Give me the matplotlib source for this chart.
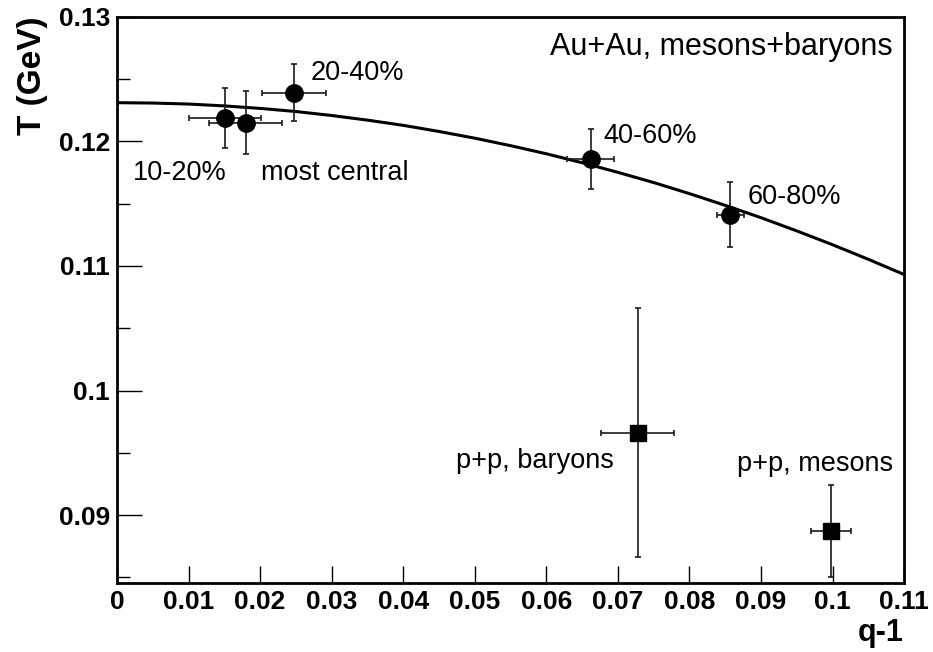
import matplotlib.pyplot as plt
import numpy as np

plt.rcParams['font.family'] = ['Liberation Sans', 'DejaVu Sans']

# Au+Au centrality classes (circles)
auau_labels = ["10-20%", "most central", "20-40%", "40-60%", "60-80%"]
auau_q = [0.0151, 0.0180, 0.0247, 0.0662, 0.0857]
auau_T = [0.1219, 0.1215, 0.1239, 0.1186, 0.1141]
auau_q_err = [0.0050, 0.0051, 0.0045, 0.0033, 0.0019]
auau_T_err = [0.0024, 0.0025, 0.0023, 0.0024, 0.0026]

# p+p (squares)
pp_labels = ["p+p, baryons", "p+p, mesons"]
pp_q = [0.0728, 0.0998]
pp_T = [0.0966, 0.0887]
pp_q_err = [0.0051, 0.0028]
pp_T_err = [0.0100, 0.0037]

# fit curve
curve_q = [0.000, 0.005, 0.010, 0.015, 0.020, 0.025, 0.030, 0.035, 0.040,
           0.045, 0.050, 0.055, 0.060, 0.065, 0.070, 0.075, 0.080, 0.085,
           0.090, 0.095, 0.100, 0.105, 0.110]
curve_T = [0.12310, 0.12307, 0.12299, 0.12284, 0.12264, 0.12239, 0.12207,
           0.12170, 0.12128, 0.12079, 0.12025, 0.11965, 0.11900, 0.11828,
           0.11751, 0.11669, 0.11580, 0.11486, 0.11387, 0.11281, 0.11170,
           0.11053, 0.10931]

x_ticks = [0, 0.01, 0.02, 0.03, 0.04, 0.05, 0.06, 0.07, 0.08, 0.09, 0.10, 0.11]
x_tick_labels = ["0", "0.01", "0.02", "0.03", "0.04", "0.05", "0.06", "0.07",
                 "0.08", "0.09", "0.1", "0.11"]
y_ticks = [0.09, 0.10, 0.11, 0.12, 0.13]
y_tick_labels = ["0.09", "0.1", "0.11", "0.12", "0.13"]
y_minor = [0.085, 0.095, 0.105, 0.115, 0.125]

fig = plt.figure(figsize=(9.33, 6.52), dpi=100)
ax = fig.add_axes([0.1254, 0.1058, 0.8436, 0.8686])

ax.plot(curve_q, curve_T, color='black', lw=2.2, zorder=2)

ax.errorbar(auau_q, auau_T, xerr=auau_q_err, yerr=auau_T_err, fmt='o',
            color='black', ecolor='#1a1a1a', elinewidth=1.2, capsize=2.5,
            capthick=1.2, markersize=12.5, zorder=3)
ax.errorbar(pp_q, pp_T, xerr=pp_q_err, yerr=pp_T_err, fmt='s',
            color='black', ecolor='#1a1a1a', elinewidth=1.2, capsize=2.5,
            capthick=1.2, markersize=11, zorder=3)

lab_fs = 19.5
ax.text(0.0022, 0.1169, auau_labels[0], fontsize=lab_fs, va='baseline')
ax.text(0.0201, 0.1169, auau_labels[1], fontsize=lab_fs, va='baseline')
ax.text(0.0270, 0.1249, auau_labels[2], fontsize=lab_fs, va='baseline')
ax.text(0.0680, 0.1199, auau_labels[3], fontsize=lab_fs, va='baseline')
ax.text(0.0881, 0.1150, auau_labels[4], fontsize=lab_fs, va='baseline')
ax.text(0.0694, 0.0938, pp_labels[0], fontsize=lab_fs, va='baseline', ha='right')
ax.text(0.1084, 0.0935, pp_labels[1], fontsize=lab_fs, va='baseline', ha='right')
ax.text(0.1084, 0.1269, "Au+Au, mesons+baryons", fontsize=22, va='baseline', ha='right')

ax.set_xlim(0, 0.11)
ax.set_ylim(0.08455, 0.13)
ax.set_xticks(x_ticks)
ax.set_xticklabels(x_tick_labels, fontsize=19, fontweight='bold')
ax.set_yticks(y_ticks)
ax.set_yticklabels(y_tick_labels, fontsize=19, fontweight='bold')
ax.set_yticks(y_minor, minor=True)

ax.tick_params(axis='x', which='major', direction='in', length=12, width=1.0,
               pad=5, top=False)
ax.tick_params(axis='y', which='major', direction='in', length=18, width=1.0,
               pad=5, right=False)
ax.tick_params(axis='y', which='minor', direction='in', length=9.5, width=1.0,
               right=False)

for s in ax.spines.values():
    s.set_linewidth(2)

ax.set_xlabel("q-1", fontsize=22, fontweight='bold', loc='right')
ax.xaxis.set_label_coords(1.0, -0.061)
ax.set_ylabel("T (GeV)", fontsize=24, fontweight='bold', loc='top')
ax.yaxis.set_label_coords(-0.088, 1.0)

plt.savefig("out.png", dpi=100)
plt.close()
